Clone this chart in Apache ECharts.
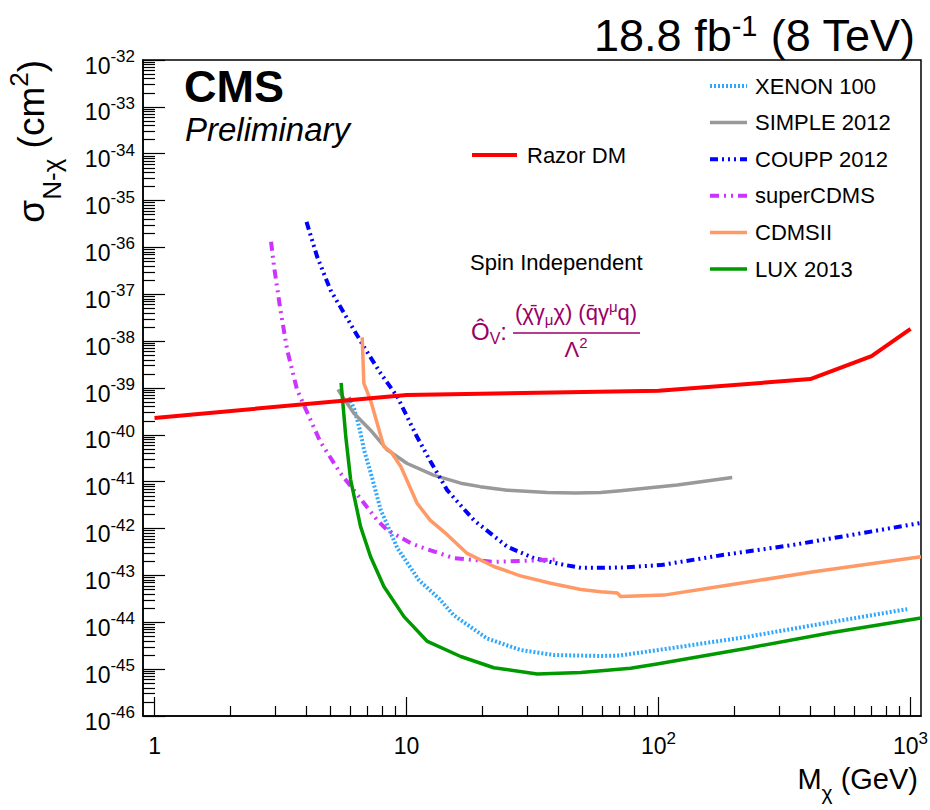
<!DOCTYPE html>
<html>
<head>
<meta charset="utf-8">
<script src="https://cdn.jsdelivr.net/npm/echarts@6/dist/echarts.min.js"></script>
<style>
  html, body { margin: 0; padding: 0; background: #fff; }
  #chart { width: 930px; height: 810px; }
</style>
</head>
<body>
<div id="chart"></div>
<script>
const FONT = '"Liberation Sans", Arial, Helvetica, sans-serif';

// Axis ranges: dark-matter mass (GeV) and WIMP-nucleon cross section (cm^2)
const massRange = [0.9, 1100];
const sigmaExpRange = [-46, -32];
// The cross-section axis is plotted in units of 1e-46 cm^2 (keeps the log scale well away from underflow)
const SIGMA_UNIT = 1e-46;

// Razor DM, vector operator limit
const razorMass  = [1, 10, 100, 400, 700, 1000];
const razorSigma = [2.3e-40, 7.1e-40, 8.7e-40, 1.55e-39, 4.8e-39, 1.82e-38];

// XENON 100
const xenonMass  = [5.9, 6.2, 6.5, 6.8, 7.2, 7.9, 9.2, 11.2, 13.5, 15.4, 20.9, 28.3, 38.4, 58.9, 70, 122, 225, 413, 970];
const xenonSigma = [6.3e-40, 3.55e-40, 1.41e-40, 4.5e-41, 1.58e-41, 2.5e-42, 3.8e-43, 7.9e-44, 3.16e-44, 1.41e-44,
                    4.5e-45, 2.57e-45, 2.0e-45, 1.91e-45, 1.95e-45, 3.0e-45, 4.9e-45, 8.7e-45, 1.91e-44];

// SIMPLE 2012
const simpleMass  = [5.34, 6.18, 7.2, 8.38, 10.06, 12.8, 16.4, 19.6, 25.1, 36.2, 47, 58.9, 70.7, 118.6, 196];
const simpleSigma = [9.3e-40, 2.9e-40, 1.26e-40, 4.8e-41, 2.45e-41, 1.38e-41, 9.3e-42, 7.85e-42, 6.6e-42, 5.9e-42,
                     5.75e-42, 5.9e-42, 6.45e-42, 8.5e-42, 1.23e-41];

// COUPP 2012
const couppMass  = [4.01, 4.42, 4.99, 6.77, 7.9, 9.19, 11.0, 12.4, 14.5, 18.5, 25.1, 32.0, 40.8, 49.2, 58.9, 72.8,
                    101.8, 181.6, 344, 633, 1100];
const couppSigma = [3.5e-36, 6.3e-37, 1.23e-37, 7.6e-39, 2.04e-39, 6.5e-40, 9.1e-41, 2.8e-41, 6.6e-42, 1.51e-42,
                    4.1e-43, 2.34e-43, 1.74e-43, 1.45e-43, 1.45e-43, 1.48e-43, 1.66e-43, 2.75e-43, 4.5e-43, 7.9e-43, 1.32e-42];

// superCDMS
const superMass  = [2.9, 2.98, 3.16, 3.36, 3.68, 4.55, 5.47, 6.18, 7.65, 8.38, 10.4, 11.3, 15.4, 22.2, 32, 39.5];
const superSigma = [1.32e-36, 3.9e-37, 4.6e-38, 6.5e-39, 9.1e-40, 7.1e-41, 1.51e-41, 6.6e-42, 1.51e-42, 9.3e-43,
                    4.9e-43, 4.1e-43, 2.34e-43, 1.95e-43, 2.09e-43, 2.19e-43];

// CDMSII
const cdmsMass  = [6.67, 6.77, 7.2, 8.13, 8.66, 9.5, 11.0, 12.4, 14.5, 17.4, 22.2, 28.3, 37.3, 49.2, 58.9, 68.6, 70.7,
                   105, 193, 413, 1100];
const cdmsSigma = [1.2e-38, 1.26e-39, 5.5e-40, 5.6e-41, 4.4e-41, 2.09e-41, 3.5e-42, 1.51e-42, 7.4e-43, 2.95e-43,
                   1.55e-43, 9.8e-44, 6.8e-44, 5.0e-44, 4.5e-44, 4.2e-44, 3.55e-44, 3.8e-44, 6.3e-44, 1.2e-43, 2.5e-43];

// LUX 2013
const luxMass  = [5.5, 5.74, 6.0, 6.57, 7.2, 8.13, 9.77, 12.1, 16.4, 22.2, 33, 49.2, 77.4, 98.6, 225, 482, 1100];
const luxSigma = [1.29e-39, 9.1e-41, 1.1e-41, 1.1e-42, 2.5e-43, 5.8e-44, 1.32e-44, 3.9e-45, 1.86e-45, 1.07e-45,
                  7.9e-46, 8.5e-46, 1.05e-45, 1.29e-45, 2.8e-45, 6.0e-45, 1.23e-44];

// Tick values (mass axis in GeV, cross-section axis in units of SIGMA_UNIT)
const xMajorTicks = [1, 10, 100, 1000];
const xMinorTicks = [];
[1, 10, 100].forEach(d => { for (let k = 2; k <= 9; k++) xMinorTicks.push(k * d); });
const yMajorTicks = [];
const yMinorTicks = [];
const yDecades = sigmaExpRange[1] - sigmaExpRange[0];
for (let e = 0; e <= yDecades; e++) {
  const d = Math.pow(10, e);
  yMajorTicks.push(d);
  if (e < yDecades) for (let k = 2; k <= 9; k++) yMinorTicks.push(k * d);
}

const pairs = (xs, ys) => xs.map((x, i) => [x, ys[i] / SIGMA_UNIT]);
const expOf = v => Math.round(Math.log10(v));

function lineSeries(name, xs, ys, color, width, dash) {
  return {
    name, type: 'line', data: pairs(xs, ys),
    xAxisIndex: 0, yAxisIndex: 0,
    symbol: 'none', smooth: false, silent: true,
    lineStyle: { color, width, type: dash || 'solid', cap: 'butt', join: 'round' },
    itemStyle: { color },
    emphasis: { disabled: true }
  };
}

const black = '#000';
const purple = '#990066';

const xAxisBase = { type: 'log', logBase: 10, min: massRange[0], max: massRange[1], position: 'bottom', splitLine: { show: false } };
const yAxisBase = { type: 'log', logBase: 10, min: 1, max: Math.pow(10, yDecades), position: 'left', splitLine: { show: false } };

const option = {
  animation: false,
  backgroundColor: '#fff',
  grid: { left: 143, right: 9, top: 60, bottom: 94, show: true, borderColor: black, borderWidth: 1.5,
          containLabel: false, outerBoundsMode: 'none' },
  xAxis: [
    Object.assign({}, xAxisBase, {
      axisLine: { show: true, lineStyle: { color: black, width: 1.5 } },
      axisTick: { show: true, inside: true, length: 19, customValues: xMajorTicks, lineStyle: { color: black, width: 1.2 } },
      axisLabel: {
        show: true, customValues: xMajorTicks, margin: 13, color: black,
        formatter: v => { const e = expOf(v); if (e === 0) return '{b|1}'; if (e === 1) return '{b|10}'; return '{b|10}{s|' + e + '}'; },
        rich: {
          b: { fontSize: 23, fontFamily: FONT, color: black, padding: [5, 0, 5, 0] },
          s: { fontSize: 17, fontFamily: FONT, color: black, padding: [0, 0, 15, 0] }
        }
      }
    }),
    Object.assign({}, xAxisBase, {
      axisLine: { show: false },
      axisTick: { show: true, inside: true, length: 10, customValues: xMinorTicks, lineStyle: { color: black, width: 1.2 } },
      axisLabel: { show: false }
    })
  ],
  yAxis: [
    Object.assign({}, yAxisBase, {
      axisLine: { show: true, lineStyle: { color: black, width: 1.5 } },
      axisTick: { show: true, inside: true, length: 22, customValues: yMajorTicks, lineStyle: { color: black, width: 1.2 } },
      axisLabel: {
        show: true, customValues: yMajorTicks, margin: 8, color: black,
        formatter: v => '{b|10}{s|' + (expOf(v) + sigmaExpRange[0]) + '}',
        rich: {
          b: { fontSize: 23, fontFamily: FONT, color: black, padding: [11, 0, 0, 0] },
          s: { fontSize: 17, fontFamily: FONT, color: black, padding: [0, 0, 7, 0] }
        }
      }
    }),
    Object.assign({}, yAxisBase, {
      axisLine: { show: false },
      axisTick: { show: true, inside: true, length: 12, customValues: yMinorTicks, lineStyle: { color: black, width: 1.2 } },
      axisLabel: { show: false }
    })
  ],
  legend: [
    {
      data: ['Razor DM'], left: 470, top: 144, padding: 0,
      itemWidth: 45, itemHeight: 22, selectedMode: false,
      itemStyle: { opacity: 0 },
      lineStyle: { width: 'inherit' },
      textStyle: { fontSize: 22, fontFamily: FONT, color: black, lineHeight: 22, padding: [0, 0, 0, 5] }
    },
    {
      data: ['XENON 100', 'SIMPLE 2012', 'COUPP 2012', 'superCDMS', 'CDMSII', 'LUX 2013'],
      orient: 'vertical', left: 708, top: 75, padding: 0,
      itemWidth: 37, itemHeight: 22, itemGap: 14.6, selectedMode: false,
      itemStyle: { opacity: 0 },
      lineStyle: { width: 'inherit' },
      textStyle: { fontSize: 22, fontFamily: FONT, color: black, lineHeight: 22, padding: [0, 0, 0, 3] }
    }
  ],
  series: [
    lineSeries('XENON 100', xenonMass, xenonSigma, '#2ea8ff', 4, [2, 2]),
    lineSeries('SIMPLE 2012', simpleMass, simpleSigma, '#999999', 3.5),
    lineSeries('COUPP 2012', couppMass, couppSigma, '#0000ff', 4, [8, 4, 2, 4, 2, 4, 2, 4]),
    lineSeries('superCDMS', superMass, superSigma, '#cc33ff', 4, [9, 5, 2, 5, 2, 5]),
    lineSeries('CDMSII', cdmsMass, cdmsSigma, '#ff9966', 3.5),
    lineSeries('LUX 2013', luxMass, luxSigma, '#009900', 3.5),
    lineSeries('Razor DM', razorMass, razorSigma, '#ff0000', 4)
  ],
  graphic: [
    // luminosity / energy label
    { type: 'text', x: 915, y: 35, silent: true,
      style: { text: '{a|18.8 fb}{s|-1}{a| (8 TeV)}', align: 'right', verticalAlign: 'middle', fill: black,
               rich: { a: { font: '45px ' + FONT }, s: { font: '29px ' + FONT, padding: [0, 0, 18, 0] } } } },
    // experiment label
    { type: 'text', x: 184, y: 86, silent: true,
      style: { text: 'CMS', font: 'bold 45px ' + FONT, lineHeight: 34, fill: black, align: 'left', verticalAlign: 'middle' } },
    { type: 'text', x: 185, y: 129, silent: true,
      style: { text: 'Preliminary', font: 'italic 33px ' + FONT, lineHeight: 30, fill: black, align: 'left', verticalAlign: 'middle' } },
    // analysis label
    { type: 'text', x: 470, y: 262, silent: true,
      style: { text: 'Spin Independent', font: '22px ' + FONT, fill: black, align: 'left', verticalAlign: 'middle' } },
    // operator definition
    { type: 'text', x: 471, y: 331, silent: true,
      style: { text: '{o|Ô}{v|V}{o|:}', align: 'left', verticalAlign: 'middle', fill: purple,
               rich: { o: { font: '24px ' + FONT }, v: { font: '16px ' + FONT, padding: [14, 0, 0, 0] } } } },
    { type: 'text', x: 576, y: 312, silent: true,
      style: { text: '{n|(χ\u0304γ}{d|μ}{n|χ) (q\u0304γ}{u|μ}{n|q)}', align: 'center', verticalAlign: 'middle', fill: purple,
               rich: { n: { font: '22px ' + FONT }, d: { font: '15px ' + FONT, padding: [14, 0, 0, 0] },
                       u: { font: '15px ' + FONT, padding: [0, 0, 12, 0] } } } },
    { type: 'line', silent: true, shape: { x1: 513, y1: 333, x2: 640, y2: 333 }, style: { stroke: purple, lineWidth: 1.3 } },
    { type: 'text', x: 576, y: 349, silent: true,
      style: { text: '{n|Λ}{u|2}', align: 'center', verticalAlign: 'middle', fill: purple,
               rich: { n: { font: '22px ' + FONT }, u: { font: '15px ' + FONT, padding: [0, 0, 14, 0] } } } },
    // axis titles
    { type: 'text', x: 31, y: 60, rotation: Math.PI / 2, silent: true,
      style: { text: '{a|σ}{d|N-χ}{a| (cm}{u|2}{a|)}', align: 'right', verticalAlign: 'middle', fill: black,
               rich: { a: { font: '37px ' + FONT }, d: { font: '26px ' + FONT, padding: [42, 0, 0, 0] },
                       u: { font: '26px ' + FONT, padding: [0, 0, 25, 0] } } } },
    { type: 'text', x: 918, y: 779, silent: true,
      style: { text: '{a|M}{d|χ}{a| (GeV)}', align: 'right', verticalAlign: 'middle', fill: black,
               rich: { a: { font: '29px ' + FONT }, d: { font: '21px ' + FONT, padding: [26, 0, 0, 0] } } } }
  ]
};

const chart = echarts.init(document.getElementById('chart'), null, { renderer: 'svg' });
chart.setOption(option);
</script>
</body>
</html>
